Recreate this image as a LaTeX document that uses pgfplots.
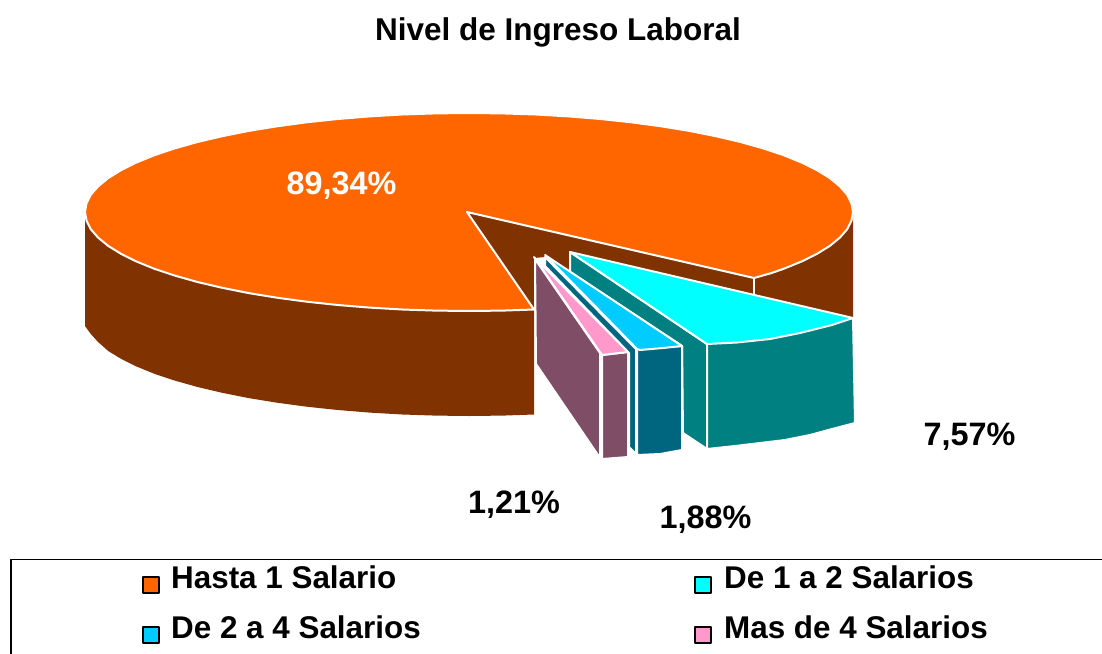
\documentclass[border=0pt]{standalone}
\usepackage{pgfplots}
\pgfplotsset{compat=1.18}
\usepackage{fontspec}
\setmainfont{Liberation Sans}
\definecolor{naranja}{HTML}{FF6600}
\definecolor{marron}{HTML}{803300}
\definecolor{cian}{HTML}{00FFFF}
\definecolor{verde}{HTML}{008080}
\definecolor{azul}{HTML}{00CCFF}
\definecolor{azulosc}{HTML}{006680}
\definecolor{rosa}{HTML}{FF99CC}
\definecolor{malva}{HTML}{804D66}
\tikzset{
    lab/.style={font=\fontsize{32.4}{36}\selectfont\bfseries, anchor=base},
    leg/.style={font=\fontsize{31.4}{36}\selectfont\bfseries, anchor=base west, inner sep=0pt},
    cuadro/.style={only marks, mark=square*, mark size=8pt, mark options={draw=black, line width=1.6pt, fill=#1}},
}
\begin{document}
\begin{tikzpicture}
\useasboundingbox (0,0) rectangle (1102pt,653pt);
\begin{axis}[
    at={(0,0)}, anchor=south west,
    width=1102pt, height=653pt,
    scale only axis,
    xmin=0, xmax=1102,
    ymin=0, ymax=653,
    y dir=reverse,
    hide axis,
    every axis plot/.append style={line join=round},
]
% pared izquierda
\addplot[fill=marron, draw=none] coordinates {
    (85,212) (85,326) (90.8,334) (98.1,342) (108.2,351) (121,358.8) (136.5,366.5)
    (154.4,373.8) (174.8,380.6) (197.5,387) (222.2,392.8) (248.7,398.1) (277,402.7)
    (306.7,406.7) (337.7,410) (369.6,412.6) (402.3,414.5) (435.5,415.6) (469,416)
    (502.5,415.6) (534,414.5) (534,309) (469,300)
} -- cycle;
% pared derecha
\addplot[fill=marron, draw=none] coordinates {
    (754,278) (771.6,273) (783.6,268.8) (801.5,261.5) (817,253.8) (829.8,245.9)
    (839.9,237.6) (847.2,229.2) (851.5,220.6) (853,212) (853,318) (754,296)
} -- cycle;
% hueco interior
\addplot[fill=marron, draw=none] coordinates {
    (467,212) (754,278) (754,296) (570,252) (570,272) (545,257) (534,258) (534,309)
} -- cycle;
% cara superior
\addplot[fill=naranja, draw=white, line width=2pt] coordinates {
    (467,212) (754,278) (771.6,273) (783.6,268.8) (801.5,261.5) (817,253.8) (829.8,245.9)
    (839.9,237.6) (847.2,229.2) (851.5,220.6) (853,212)
    (851.5,203.4) (847.2,194.8) (839.9,186.4) (829.8,178.1) (817,170.2) (801.5,162.5)
    (783.6,155.2) (763.2,148.4) (740.5,142) (715.8,136.2) (689.3,130.9) (661,126.3)
    (631.3,122.3) (600.3,119) (568.4,116.4) (535.7,114.5) (502.5,113.4) (469,113)
    (435.5,113.4) (402.3,114.5) (369.6,116.4) (337.7,119) (306.7,122.3) (277,126.3)
    (248.7,130.9) (222.2,136.2) (197.5,142) (174.8,148.4) (154.4,155.2) (136.5,162.5)
    (121,170.2) (108.2,178.1) (98.1,186.4) (90.8,194.8) (86.5,203.4) (85,212)
    (86.5,220.6) (90.8,229.2) (98.1,237.6) (108.2,245.9) (121,253.8) (136.5,261.5)
    (154.4,268.8) (174.8,275.6) (197.5,282) (222.2,287.8) (248.7,293.1) (277,297.7)
    (306.7,301.7) (337.7,305) (369.6,307.6) (402.3,309.5) (435.5,310.6) (469,311)
    (502.5,310.6) (534,309.5)
} -- cycle;
\addplot[white, line width=2pt] coordinates {(754,278) (754,294)};
% 7,57%
\addplot[fill=verde, draw=white, line width=2pt] coordinates {
    (570,252) (707,344) (707,449) (683,433) (682,346) (570,272)
} -- cycle;
\addplot[fill=verde, draw=white, line width=2pt] coordinates {
    (707,344) (853,318) (855,423) (832,429) (810,435) (785,440) (760,443) (735,446) (707,449)
} -- cycle;
\addplot[fill=cian, draw=white, line width=2pt] coordinates {
    (570,252) (853,318) (832,325) (800,333) (770,339) (737,342.5) (707,344)
} -- cycle;
% 1,88%
\addplot[fill=azulosc, draw=white, line width=2pt] coordinates {
    (545,257) (636,349) (636,454) (629,447) (629,353) (545,266)
} -- cycle;
\addplot[fill=azulosc, draw=white, line width=2pt] coordinates {
    (637,349) (682,346) (682,450) (660,454) (637,455)
} -- cycle;
\addplot[fill=azul, draw=white, line width=2pt] coordinates {
    (545,255) (682,346) (663,348) (640,350) (637,349)
} -- cycle;
% 1,21%
\addplot[fill=malva, draw=white, line width=2pt] coordinates {
    (535,259) (600,353) (600,458) (536,364)
} -- cycle;
\addplot[fill=malva, draw=white, line width=2pt] coordinates {
    (602,355) (628,352) (628,457) (602,459)
} -- cycle;
\addplot[fill=rosa, draw=white, line width=2pt] coordinates {
    (534,257) (628,352) (602,355)
} -- cycle;
% marco de la leyenda
\addplot[black, line width=1.6pt] coordinates {(11,660) (11,559.5) (1110,559.5)};
\addplot[cuadro=naranja] coordinates {(151,585)};
\addplot[cuadro=cian] coordinates {(703,585)};
\addplot[cuadro=azul] coordinates {(151,635)};
\addplot[cuadro=rosa] coordinates {(703,635)};
% textos
\node[font=\fontsize{31.5}{36}\selectfont\bfseries, anchor=base] at (axis cs:558,40.5) {Nivel de Ingreso Laboral};
\node[lab, text=white] at (axis cs:341.5,194) {89,34\%};
\node[lab] at (axis cs:969.5,445) {7,57\%};
\node[lab] at (axis cs:514,513) {1,21\%};
\node[lab] at (axis cs:705.5,528) {1,88\%};
\node[leg] at (axis cs:171,588) {Hasta 1 Salario};
\node[leg] at (axis cs:724,588) {De 1 a 2 Salarios};
\node[leg] at (axis cs:171,638) {De 2 a 4 Salarios};
\node[leg] at (axis cs:724,638) {Mas de 4 Salarios};
\end{axis}
\end{tikzpicture}
\end{document}
